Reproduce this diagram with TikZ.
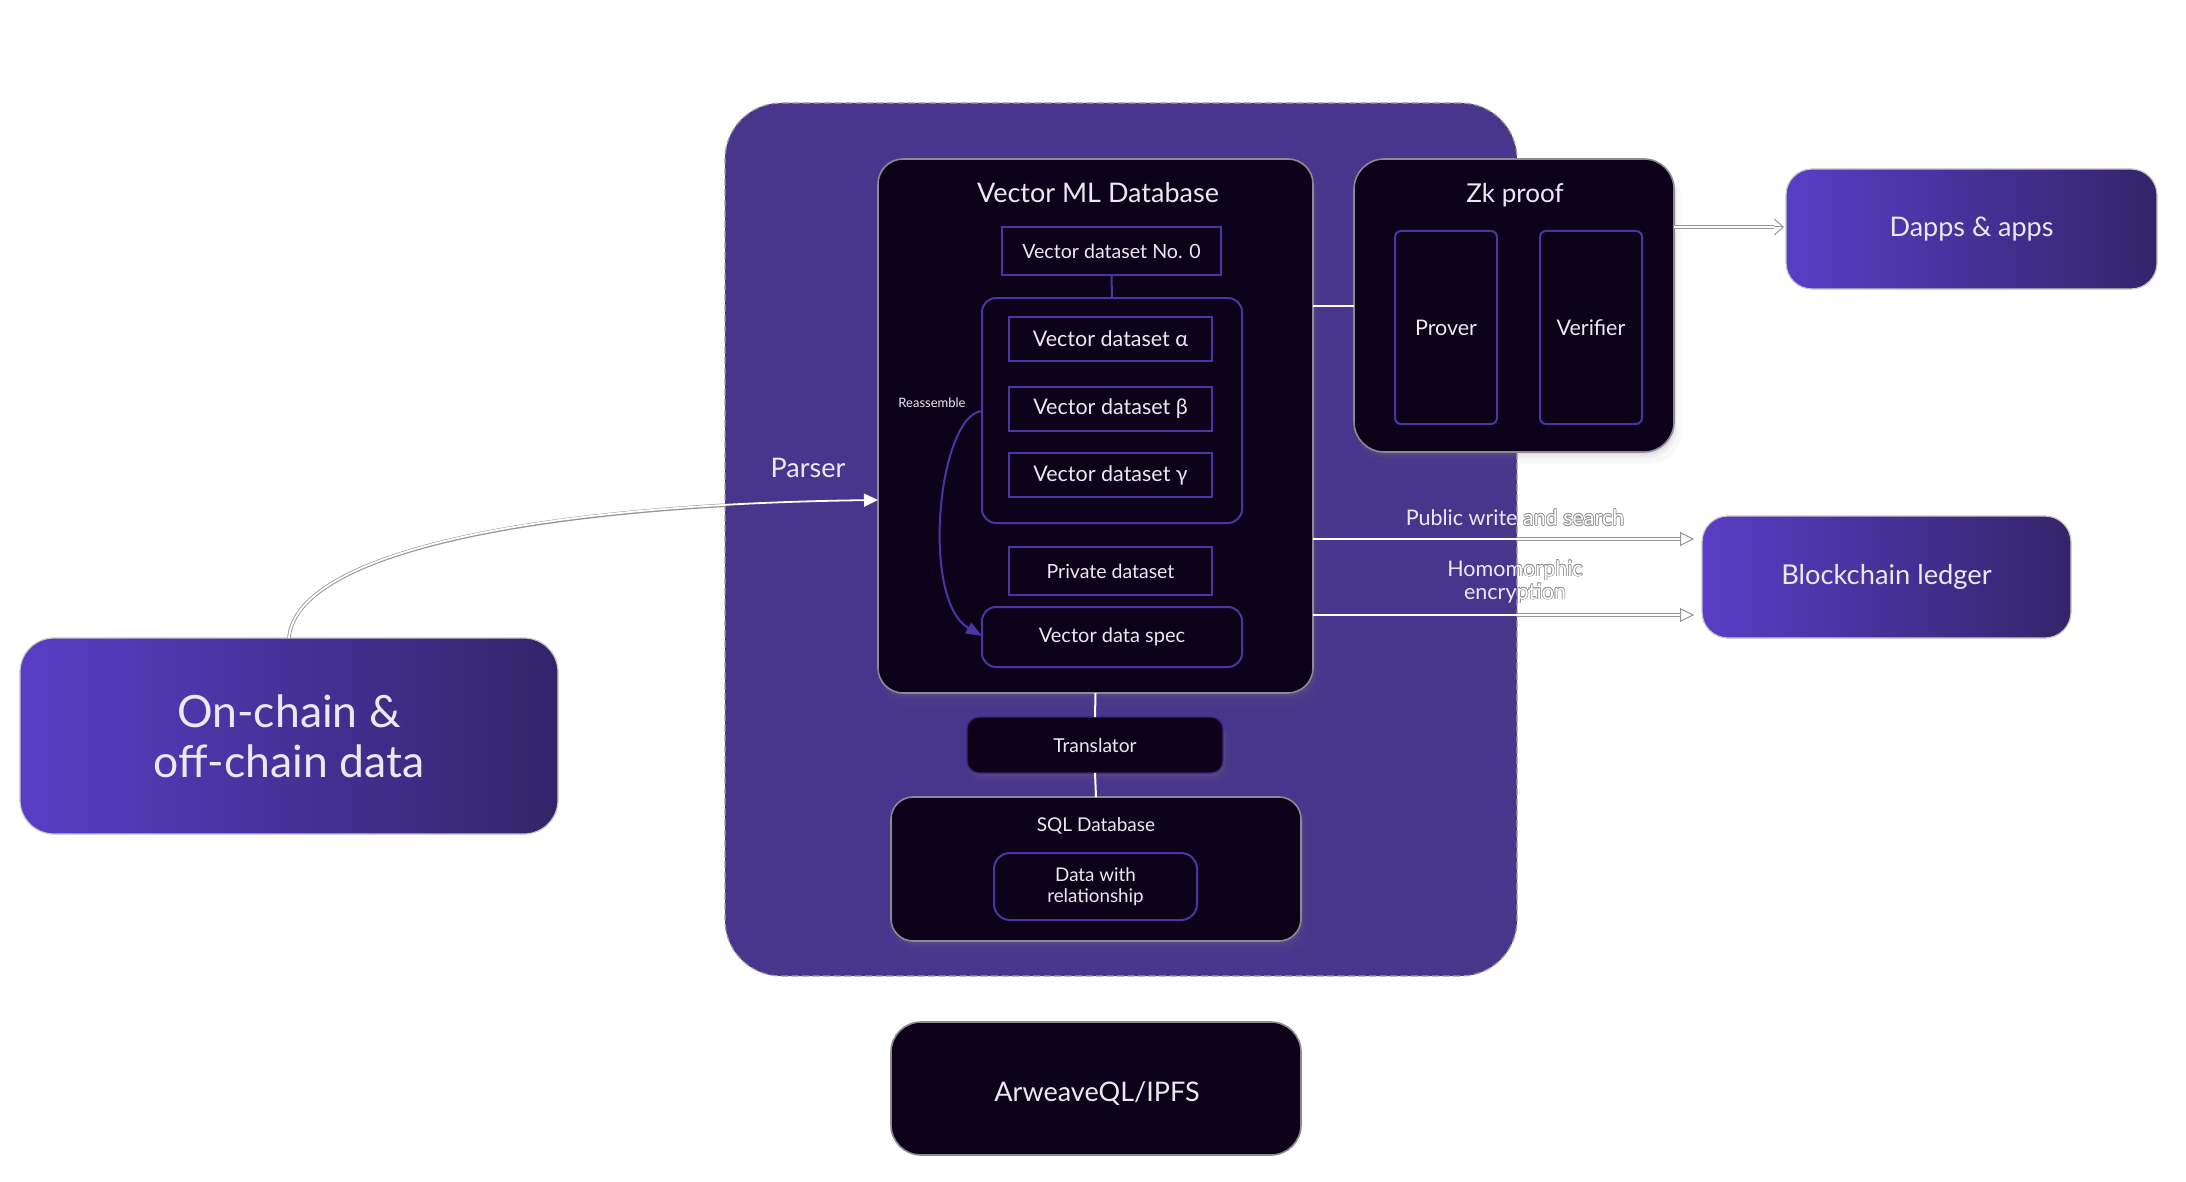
\documentclass[tikz,border=0pt]{standalone}
\usepackage{fontspec}
\setmainfont{Lato}
\usepackage{contour}
\usetikzlibrary{arrows.meta,calc,shadows}

\definecolor{panel}{RGB}{72,54,140}
\definecolor{ink}{RGB}{13,2,25}
\definecolor{edge}{RGB}{140,138,146}
\definecolor{violet}{RGB}{76,52,165}
\definecolor{gradL}{RGB}{88,62,198}
\definecolor{gradR}{RGB}{52,36,106}
\definecolor{txt}{RGB}{236,232,242}
\definecolor{halo}{RGB}{150,150,150}

\newcommand\pxfont[2]{\fontsize{#1}{#2}\selectfont}
\contourlength{0.6pt}
\contournumber{16}

\begin{document}
\begin{tikzpicture}[x=1pt,y=-1pt,
  every node/.style={inner sep=0pt, outer sep=0pt},
  soft/.style={
    drop shadow={opacity=0.05, shadow xshift=5pt, shadow yshift=-10pt, shadow scale=1.01},
    drop shadow={opacity=0.08, shadow xshift=3pt, shadow yshift=-6pt},
    drop shadow={opacity=0.10, shadow xshift=1.5pt, shadow yshift=-3pt}},
  darkbox/.style={draw=edge, line width=1.6pt, fill=ink},
  violetbox/.style={draw=violet, line width=2pt, fill=ink, text=txt, align=center},
  tile/.style={draw=violet, line width=2pt, fill=ink, text=txt,
    minimum width=203pt, minimum height=44pt, font=\pxfont{21.5}{25}},
  gradbox/.style={draw=gray!45, line width=1.2pt, rounded corners=26pt,
    left color=gradL, right color=gradR, text=txt, align=center},
  lbl/.style={text=txt, align=center},
  wire/.style={white, line width=2pt},
  halo line/.style={halo, line width=3.6pt},
  core line/.style={white, line width=1.8pt},
  openhead/.style={halo, line width=1pt, -{Triangle[open, length=14pt, width=14pt]}},
]
\useasboundingbox (0,0) rectangle (2186,1182);
\fill[white] (0,0) rectangle (2186,1182);

% dashed platform panel
\node[draw=gray!75, line width=1.2pt, dash pattern=on 7pt off 3.5pt, fill=panel,
  rounded corners=56pt, minimum width=792pt, minimum height=873pt] (frame) at (1121,539.5) {};

% Vector ML database
\node[soft, darkbox, rounded corners=25pt, minimum width=435pt, minimum height=534pt] (vmd) at (1095.5,426) {};
\node[lbl, font=\pxfont{27}{32}] (vmdtitle) at (1098,193) {Vector ML Database};
\node[tile, minimum width=219pt, minimum height=48pt, font=\pxfont{19.6}{23}] (no0) at (1111.5,251) {Vector dataset No. 0};
\node[violetbox, rounded corners=14pt, minimum width=260pt, minimum height=225pt] (grp) at (1112,410.5) {};
\node[tile] (alpha) at (1110.5,339) {Vector dataset α};
\node[tile] (beta) at (1110.5,409) {Vector dataset β};
\node[tile] (gamma) at (1110.5,475) {Vector dataset γ};
\node[tile, minimum height=48pt, font=\pxfont{19.5}{23}] (priv) at (1110.5,571) {Private dataset};
\node[violetbox, rounded corners=14pt, minimum width=260pt, minimum height=60pt, font=\pxfont{20}{24}] (spec) at (1112,637) {Vector data spec};
\node[lbl, font=\pxfont{13}{16}] (reasm) at (932,403) {Reassemble};
\draw[violet, line width=2pt] (no0.south) -- (grp.north);
\draw[violet, line width=2pt, -{Triangle[length=16pt, width=12pt]}]
  (grp.west |- 0,411) .. controls (938,415) and (920,600) .. (spec.west |- 0,636);

% Zk proof
\node[soft, darkbox, rounded corners=30pt, minimum width=320pt, minimum height=293pt] (zk) at (1514,305.5) {};
\node[lbl, font=\pxfont{26}{31}] (zktitle) at (1515,195) {Zk proof};
\node[violetbox, rounded corners=6pt, minimum width=102pt, minimum height=193pt, font=\pxfont{21.5}{25}] (prover) at (1446,327.5) {Prover};
\node[violetbox, rounded corners=6pt, minimum width=102pt, minimum height=193pt, font=\pxfont{21.5}{25}] (verifier) at (1591,327.5) {Verifier};

% translator and SQL store
\node[soft, fill=ink, draw=violet!70!ink, line width=1.2pt, rounded corners=12pt, minimum width=256pt,
  minimum height=56pt, lbl, font=\pxfont{19.2}{23}] (trans) at (1095,745) {Translator};
\node[soft, darkbox, rounded corners=22pt, minimum width=410pt, minimum height=144pt] (sql) at (1096,869) {};
\node[lbl, font=\pxfont{19}{23}] (sqltitle) at (1096,826) {SQL Database};
\node[violetbox, rounded corners=16pt, minimum width=203pt, minimum height=67pt, font=\pxfont{18.8}{21}] (rel) at (1095.5,886.5) {Data with\\relationship};

% storage layer
\node[darkbox, rounded corners=30pt, minimum width=410pt, minimum height=133pt] (arw) at (1096,1088.5) {};
\node[lbl, font=\pxfont{27}{32}] (arwtext) at (1097,1094) {ArweaveQL/IPFS};

% external parties
\node[gradbox, minimum width=371pt, minimum height=120pt, font=\pxfont{27}{32}] (dapps) at (1971.5,229) {Dapps \& apps};
\node[gradbox, minimum width=369pt, minimum height=122pt, font=\pxfont{27.3}{32}] (chain) at (1886.5,577) {Blockchain ledger};
\node[gradbox, rounded corners=34pt, minimum width=538pt, minimum height=196pt, font=\pxfont{44.5}{50}] (onchain) at (289,736) {On-chain \&\\off-chain data};

% plain links
\draw[wire] (vmd.east |- zk.west) -- (zk.west);
\draw[wire] (vmd.south) -- (trans.north);
\draw[wire] (trans.south) -- (sql.north);

% parser
\begin{scope}
  \clip (0,0) rectangle (725,1182);
  \draw[halo line] (onchain.north) .. controls (295,560) and (500,505) .. (vmd.west |- 0,500);
\end{scope}
\draw[core line, -{Triangle[length=14pt, width=13pt]}] (onchain.north) .. controls (295,560) and (500,505) .. (vmd.west |- 0,500);
\node[lbl, font=\pxfont{27}{32}] (parser) at (808,468) {Parser};

% zk proof to apps
\draw[halo line] (zk.east |- 0,227) -- ([xshift=-12pt]dapps.west |- 0,227);
\draw[core line] (zk.east |- 0,227) -- ([xshift=-12pt]dapps.west |- 0,227);
\draw[halo, line width=1pt, -{Straight Barb[length=9pt, width=16pt]}] ([xshift=-12pt]dapps.west |- 0,227) -- ([xshift=-2pt]dapps.west |- 0,227);

% database to ledger
\begin{scope}
  \clip (1517,0) rectangle (2186,1182);
  \draw[halo line] (vmd.east |- 0,539) -- ([xshift=-22pt]chain.west |- 0,539);
  \draw[halo line] (vmd.east |- 0,615) -- ([xshift=-22pt]chain.west |- 0,615);
\end{scope}
\draw[core line] (vmd.east |- 0,539) -- ([xshift=-22pt]chain.west |- 0,539);
\draw[core line] (vmd.east |- 0,615) -- ([xshift=-22pt]chain.west |- 0,615);
\draw[openhead] ([xshift=-22pt]chain.west |- 0,539) -- ([xshift=-8pt]chain.west |- 0,539);
\draw[openhead] ([xshift=-22pt]chain.west |- 0,615) -- ([xshift=-8pt]chain.west |- 0,615);

\begin{scope}
  \clip (0,0) rectangle (1517,1182);
  \node[lbl, font=\pxfont{21.5}{24}] (pubin) at (1515,518) {Public write and search};
  \node[lbl, font=\pxfont{21.5}{23}] (homin) at (1515,582) {Homomorphic\\encryption};
\end{scope}
\begin{scope}
  \clip (1517,0) rectangle (2186,1182);
  \node[text=white, align=center, font=\pxfont{21.5}{24}] (pubout) at (1515,518) {\contour{halo}{Public write and search}};
  \node[text=white, align=center, font=\pxfont{21.5}{23}] (homout) at (1515,582) {\contour{halo}{Homomorphic}\\\contour{halo}{encryption}};
\end{scope}
\end{tikzpicture}
\end{document}
